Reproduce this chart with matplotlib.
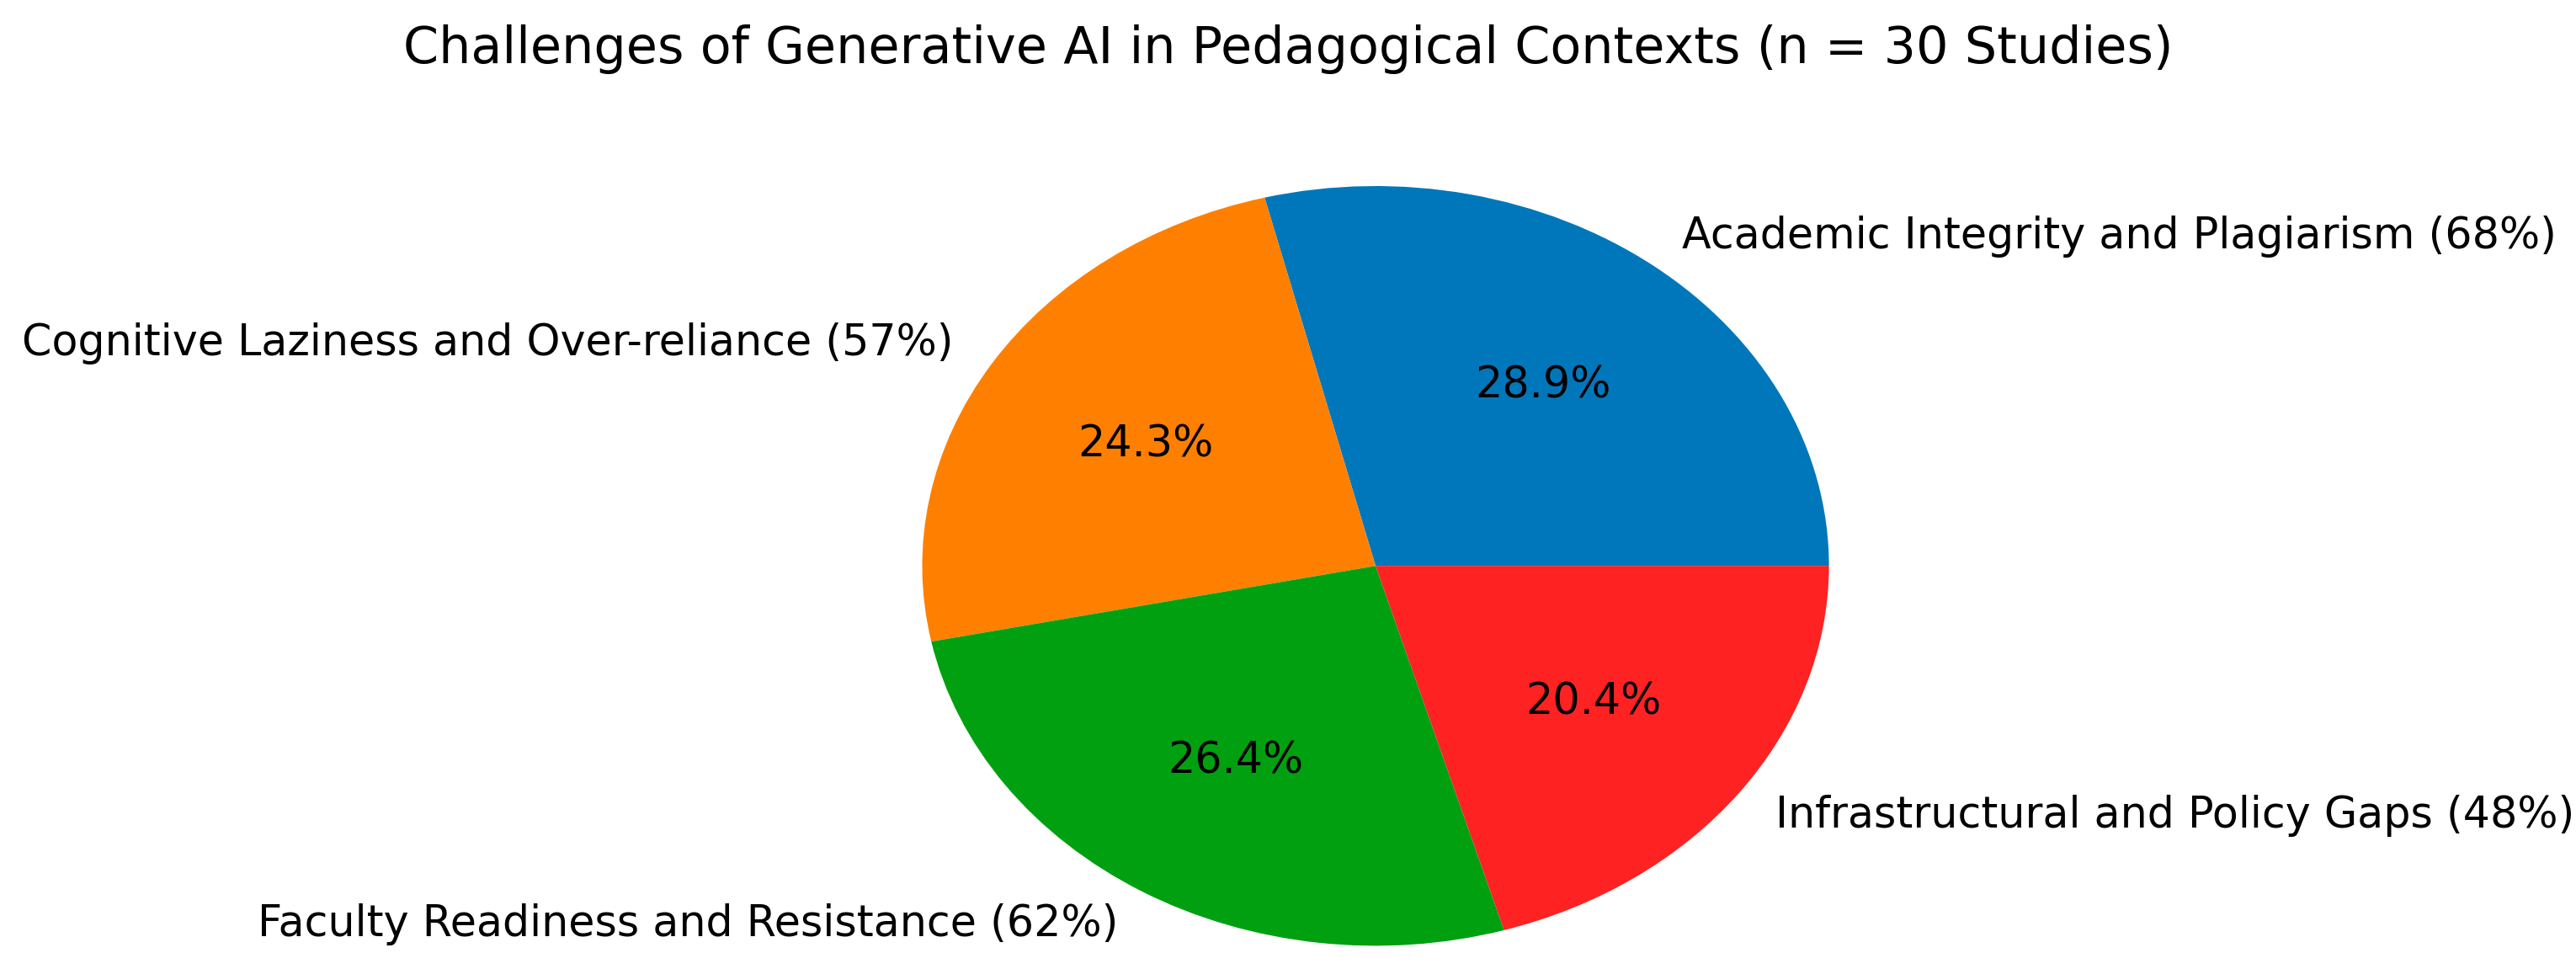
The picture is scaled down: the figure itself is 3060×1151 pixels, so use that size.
import matplotlib
matplotlib.use("Agg")
import matplotlib.pyplot as plt

labels = ["Academic Integrity and Plagiarism (68%)",
          "Cognitive Laziness and Over-reliance (57%)",
          "Faculty Readiness and Resistance (62%)",
          "Infrastructural and Policy Gaps (48%)"]
values = [68, 57, 62, 48]
colors = ["#0077BB", "#FF8000", "#00A010", "#FF2222"]

fig = plt.figure(figsize=(30.6, 11.51), dpi=100)
ax = fig.add_axes([0.358, 0.024, 0.352, 0.784])
ax.pie(values, labels=labels, colors=colors, autopct="%1.1f%%",
       textprops={"fontsize": 36.5}, labeldistance=1.1, pctdistance=0.6)
ax.set_aspect("auto")
ax.set_xlim(-1, 1)
ax.set_ylim(-1, 1)
for t in ax.texts:
    t.set_clip_on(False)
fig.suptitle("Challenges of Generative AI in Pedagogical Contexts (n = 30 Studies)",
             fontsize=43.5, y=0.975)
fig.savefig("out.png", dpi=100)
